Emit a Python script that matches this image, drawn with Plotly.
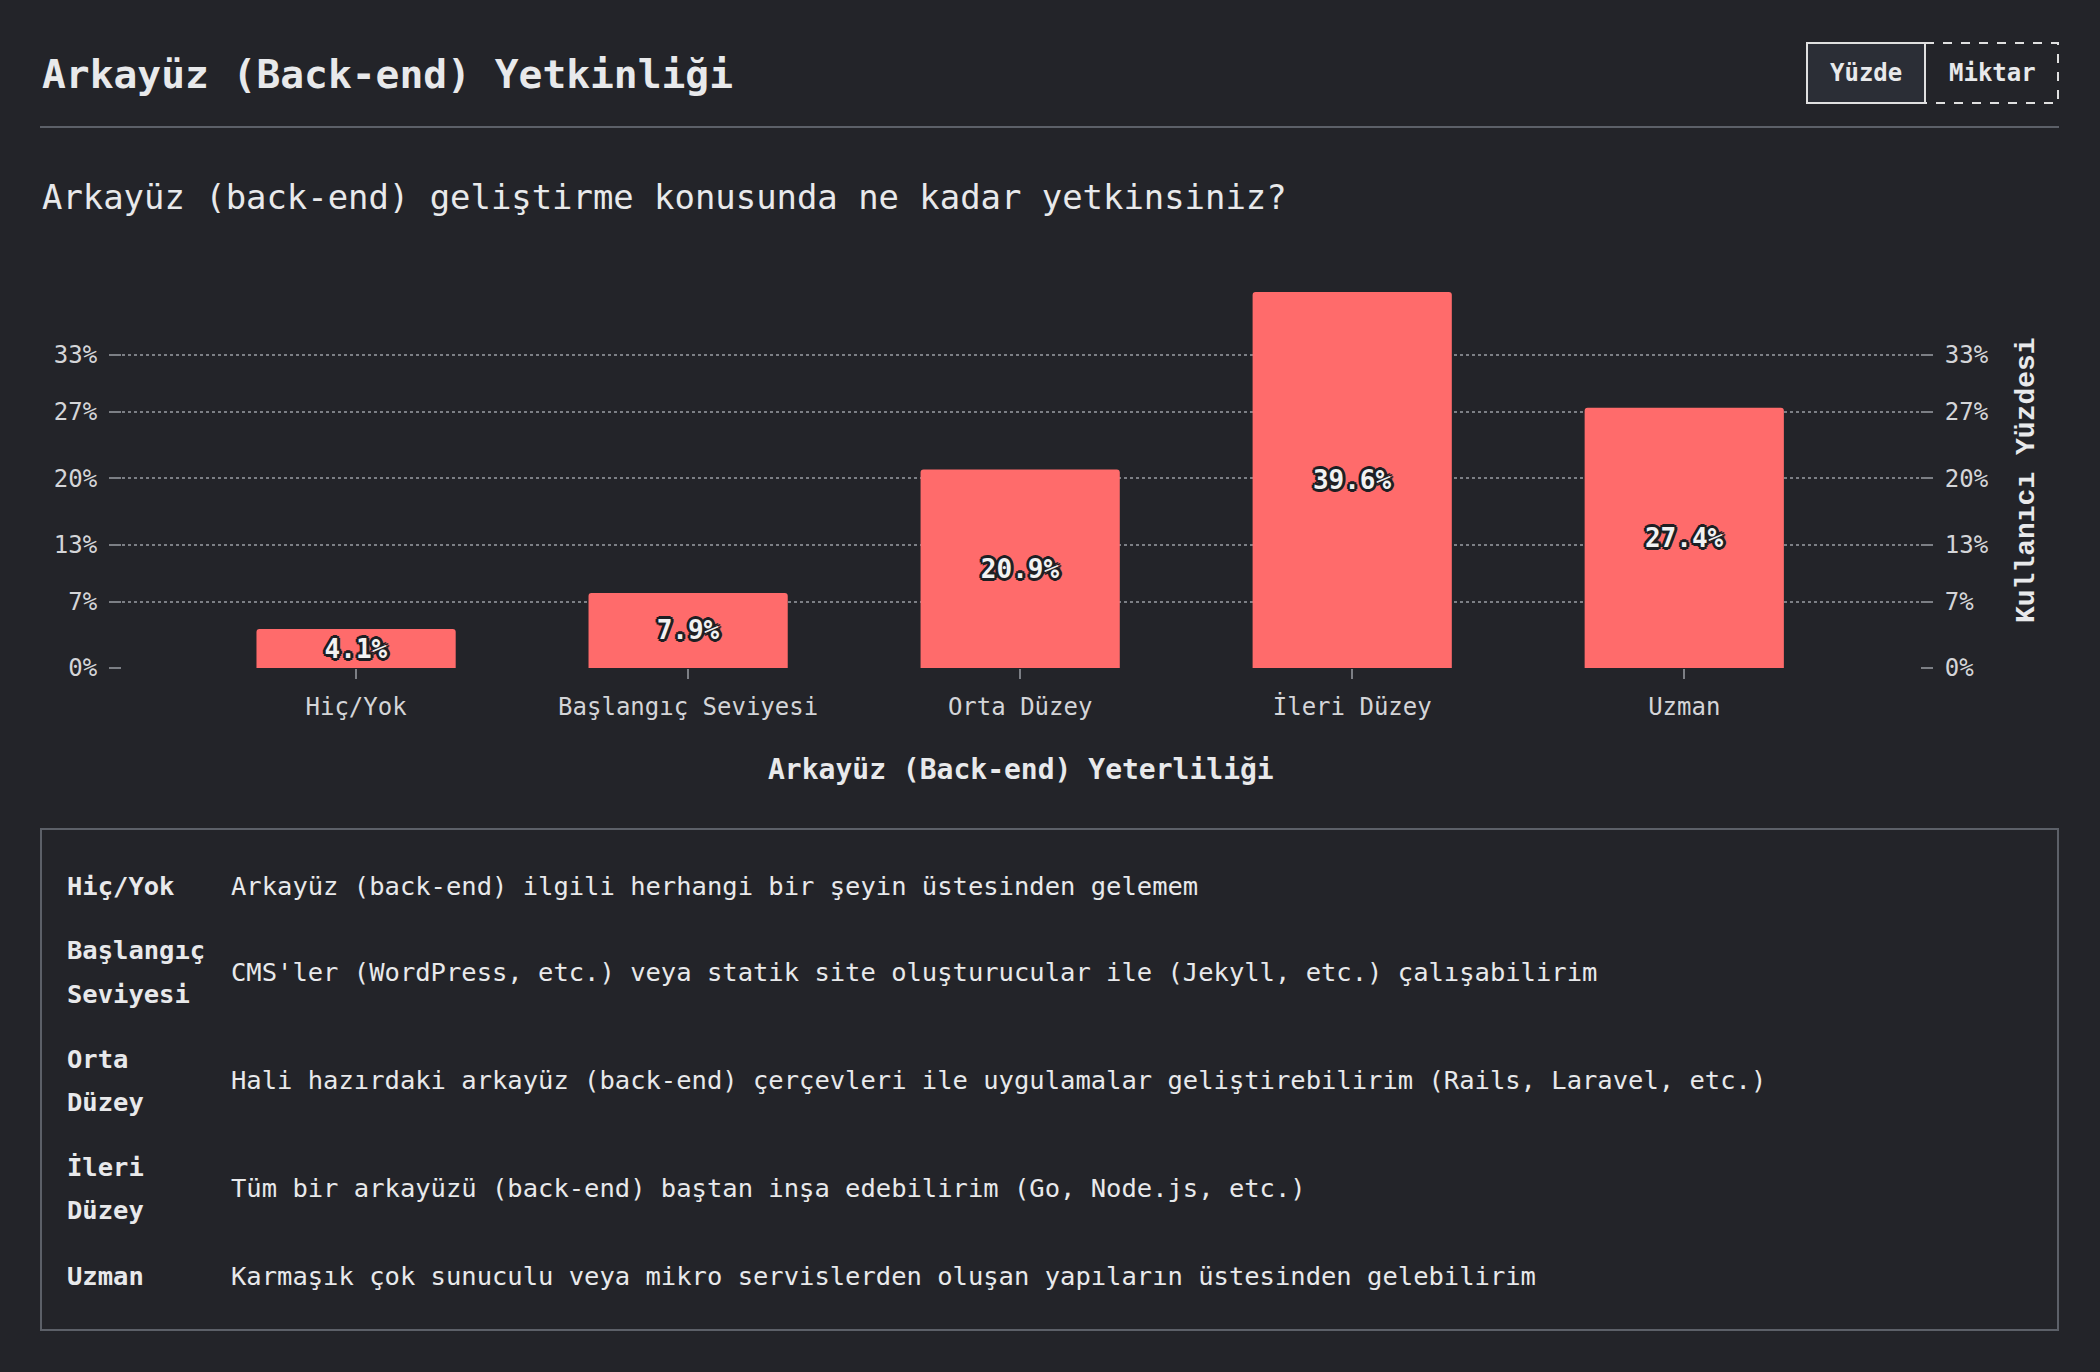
import plotly.graph_objects as go

W, H = 2100, 1372

# ---------------- data ----------------
categories = ["Hiç/Yok", "Başlangıç Seviyesi", "Orta Düzey", "İleri Düzey", "Uzman"]
percentages = [4.1, 7.9, 20.9, 39.6, 27.4]
tick_values = [0, 7, 13, 20, 27, 33]
tick_labels = ["0%", "7%", "13%", "20%", "27%", "33%"]

title_text = "Arkayüz (Back-end) Yetkinliği"
subtitle_text = "Arkayüz (back-end) geliştirme konusunda ne kadar yetkinsiniz?"
x_title = "Arkayüz (Back-end) Yeterliliği"
y_title = "Kullanıcı Yüzdesi"
buttons = ["Yüzde", "Miktar"]

def_labels = [["Hiç/Yok"], ["Başlangıç", "Seviyesi"], ["Orta", "Düzey"], ["İleri", "Düzey"], ["Uzman"]]
def_texts = [
    "Arkayüz (back-end) ilgili herhangi bir şeyin üstesinden gelemem",
    "CMS'ler (WordPress, etc.) veya statik site oluşturucular ile (Jekyll, etc.) çalışabilirim",
    "Hali hazırdaki arkayüz (back-end) çerçevleri ile uygulamalar geliştirebilirim (Rails, Laravel, etc.)",
    "Tüm bir arkayüzü (back-end) baştan inşa edebilirim (Go, Node.js, etc.)",
    "Karmaşık çok sunuculu veya mikro servislerden oluşan yapıların üstesinden gelebilirim",
]

# ---------------- style ----------------
BG = "#232429"
FG = "#e8e9eb"
TICK = "#d4d5d8"
GRID = "#7c7f85"
LINE = "#5c6068"
BAR = "#ff6b6b"
MONO = "DejaVu Sans Mono, Liberation Mono, monospace"
OUT = "#1e1f23"

def px(xp):
    return xp / W

def py(yp):
    return 1 - yp / H

fig = go.Figure()

fig.add_trace(go.Bar(
    x=categories, y=percentages,
    marker=dict(color=BAR, cornerradius=3, line=dict(width=0)),
    width=0.6,
    texttemplate="%{y:.1f}%",
    textposition="inside",
    insidetextanchor="middle",
    constraintext="none",
    textangle=0,
    textfont=dict(family=MONO, size=26, color="#f2f2f2", weight="bold",
                  shadow=", ".join(f"{dx}px {dy}px 0 {OUT}" for dx, dy in
                                   [(-2, -2), (2, -2), (-2, 2), (2, 2), (0, 3), (0, -3), (3, 0), (-3, 0)])),
    hoverinfo="skip",
    showlegend=False,
))
# invisible trace to register the right-hand axis
fig.add_trace(go.Scatter(
    x=categories, y=percentages, yaxis="y2", mode="markers",
    marker=dict(opacity=0), hoverinfo="skip", showlegend=False,
))

plot_left, plot_right = 122, 1920
plot_top, plot_bottom = 292, 668

axis_common = dict(
    range=[0, 39.6],
    tickmode="array", tickvals=tick_values, ticktext=tick_labels,
    ticks="outside", ticklen=12, tickwidth=2, tickcolor=GRID,
    tickfont=dict(family=MONO, size=24, color=TICK),
    zeroline=False, showline=False, fixedrange=True, automargin=False,
    domain=[py(plot_bottom), py(plot_top)],
)

fig.update_layout(
    template="none",
    width=W, height=H,
    margin=dict(l=0, r=0, t=0, b=0, pad=0, autoexpand=False),
    paper_bgcolor=BG, plot_bgcolor=BG,
    showlegend=False,
    xaxis=dict(
        domain=[px(plot_left), px(plot_right)],
        range=[-0.705, 4.71],
        ticks="outside", ticklen=10, tickwidth=2, tickcolor=GRID,
        tickfont=dict(family=MONO, size=24, color=TICK),
        showgrid=False, zeroline=False, showline=False, fixedrange=True,
        ticklabelstandoff=7, automargin=False,
    ),
    yaxis=dict(side="left", ticklabelstandoff=7, showgrid=True, gridcolor=GRID,
               griddash="dot", gridwidth=1.5, **axis_common),
    yaxis2=dict(side="right", overlaying="y", anchor="x", ticklabelstandoff=7,
                showgrid=False, **axis_common),
)

ann = []
shapes = []

# Title and subtitle
ann.append(dict(x=px(40), y=py(74), xref="paper", yref="paper", xanchor="left", yanchor="middle",
                text=f"<b>{title_text}</b>", showarrow=False,
                font=dict(family=MONO, size=39.6, color=FG)))
ann.append(dict(x=px(40), y=py(198), xref="paper", yref="paper", xanchor="left", yanchor="middle",
                text=subtitle_text, showarrow=False,
                font=dict(family=MONO, size=33.9, color=FG)))
shapes.append(dict(type="line", xref="paper", yref="paper", x0=px(40), x1=px(2059), y0=py(127), y1=py(127),
                   line=dict(color=LINE, width=2)))

# Buttons
shapes.append(dict(type="rect", xref="paper", yref="paper", x0=px(1925), x1=px(2058), y0=py(43), y1=py(103),
                   line=dict(color="#e0e0e0", width=2, dash="dash"), fillcolor=BG))
shapes.append(dict(type="rect", xref="paper", yref="paper", x0=px(1807), x1=px(1925), y0=py(43), y1=py(103),
                   line=dict(color="#e0e0e0", width=2), fillcolor="#2b2e36"))
for label, cx in zip(buttons, [1866, 1992]):
    ann.append(dict(x=px(cx), y=py(73), xref="paper", yref="paper", xanchor="center", yanchor="middle",
                    text=f"<b>{label}</b>", showarrow=False,
                    font=dict(family=MONO, size=24, color=FG)))

# Axis titles
ann.append(dict(x=(px(plot_left) + px(plot_right)) / 2, y=py(769), xref="paper", yref="paper",
                xanchor="center", yanchor="middle", text=f"<b>{x_title}</b>", showarrow=False,
                font=dict(family=MONO, size=28, color=FG)))
ann.append(dict(x=px(2026), y=py(480), xref="paper", yref="paper", xanchor="center", yanchor="middle",
                text=f"<b>{y_title}</b>", textangle=-90, showarrow=False,
                font=dict(family="Liberation Mono, monospace", size=28, color=FG)))

# Definitions box
shapes.append(dict(type="rect", xref="paper", yref="paper", x0=px(41), x1=px(2058), y0=py(829), y1=py(1330),
                   line=dict(color=LINE, width=2), fillcolor="rgba(0,0,0,0)"))
row_centers = [886, 972, 1080, 1188, 1276]
line_gap = 43
for labels, text, cy in zip(def_labels, def_texts, row_centers):
    n = len(labels)
    for i, lab in enumerate(labels):
        ly = cy + (i - (n - 1) / 2) * line_gap
        ann.append(dict(x=px(65), y=py(ly), xref="paper", yref="paper", xanchor="left", yanchor="middle",
                        text=f"<b>{lab}</b>", showarrow=False,
                        font=dict(family=MONO, size=25.5, color=FG)))
    ann.append(dict(x=px(229), y=py(cy), xref="paper", yref="paper", xanchor="left", yanchor="middle",
                    text=text, showarrow=False,
                    font=dict(family=MONO, size=25.5, color=FG)))

fig.update_layout(annotations=ann, shapes=shapes)

fig.write_html("out.html", config={"displayModeBar": False})
